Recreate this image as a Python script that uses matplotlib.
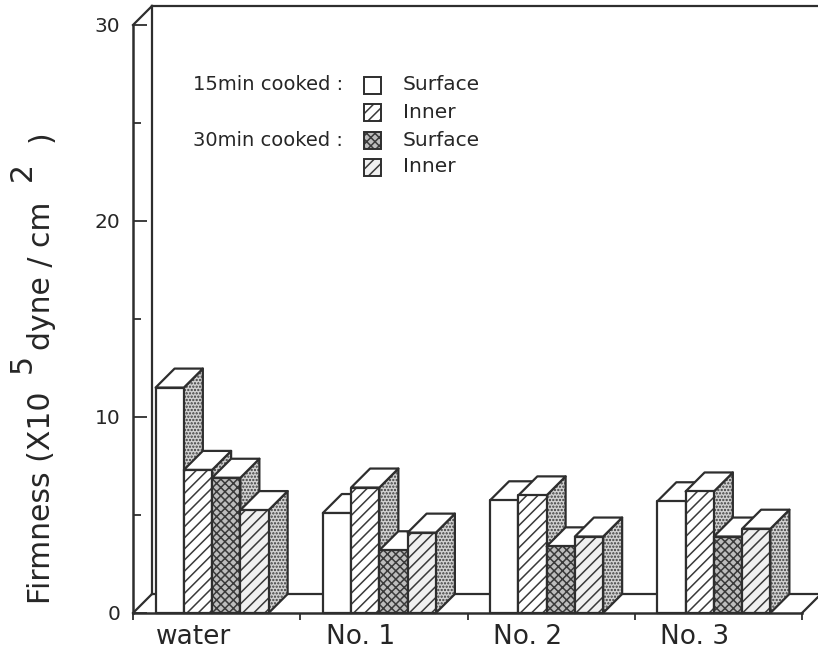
import matplotlib.pyplot as plt
from matplotlib.patches import Polygon, Rectangle

plt.rcParams['font.family'] = 'DejaVu Sans'
plt.rcParams['hatch.linewidth'] = 1.1

# data (x10^5 dyne/cm2)
groups = ['water', 'No. 1', 'No. 2', 'No. 3']
surface_15 = [11.5, 5.1, 5.75, 5.7]
inner_15 = [7.3, 6.4, 6.0, 6.2]
surface_30 = [6.9, 3.2, 3.4, 3.9]
inner_30 = [5.25, 4.1, 3.9, 4.3]
series_names = ['Surface', 'Inner', 'Surface', 'Inner']
cook_labels = ['15min cooked :', '30min cooked :']

series = [surface_15, inner_15, surface_30, inner_30]

LINE = '#2e2e2e'
TEXT = '#262626'
# front face styles (facecolor, hatch)
styles = [('white', None), ('white', '///'), ('#bdbdbd', 'xxxx'), ('#f0f0f0', '///')]
side_style = ('#d2d2d2', '.....')

W, H = 818, 652
fig = plt.figure(figsize=(W / 100, H / 100), dpi=100)
ax = fig.add_axes([133 / W, 39 / H, 669 / W, 588 / H])
ax.set_xlim(0, 4)
ax.set_ylim(0, 30)

# depth of the pseudo-3d box, in data units
dx = 19 / 167.25
dy = 0.97
bar_w = 0.169
first_off = 0.135


def face(pts, fc, hatch, z):
    ax.add_patch(Polygon(pts, closed=True, facecolor=fc, edgecolor='#3a3a3a', hatch=hatch,
                         linewidth=0, zorder=z, clip_on=False))
    ax.add_patch(Polygon(pts, closed=True, fill=False, edgecolor=LINE, linewidth=1.6,
                         zorder=z, clip_on=False, joinstyle='round'))


# back wall and floor outline
kw = dict(color=LINE, lw=1.6, clip_on=False, zorder=1)
ax.plot([0, dx], [30, 30 + dy], **kw)
ax.plot([dx, dx], [dy, 30 + dy], **kw)
ax.plot([dx, 4 + dx], [30 + dy, 30 + dy], **kw)
ax.plot([0, dx], [0, dy], **kw)
ax.plot([dx, 4 + dx], [dy, dy], **kw)
ax.plot([4, 4 + dx], [0, dy], **kw)

# bars, drawn left to right so later fronts hide earlier sides
z = 3
for g in range(len(groups)):
    x0 = g + first_off
    for k, vals in enumerate(series):
        h = vals[g]
        xl = x0 + k * bar_w
        xr = xl + bar_w
        face([(xr, 0), (xr + dx, dy), (xr + dx, h + dy), (xr, h)], side_style[0], side_style[1], z)
        face([(xl, h), (xl + dx, h + dy), (xr + dx, h + dy), (xr, h)], 'white', None, z + 1)
        fc, hatch = styles[k]
        face([(xl, 0), (xr, 0), (xr, h), (xl, h)], fc, hatch, z + 2)
        z += 3

# axes styling
for s in ['top', 'right']:
    ax.spines[s].set_visible(False)
for s in ['left', 'bottom']:
    ax.spines[s].set_color(LINE)
    ax.spines[s].set_linewidth(1.8)

ax.set_yticks([0, 10, 20, 30])
ax.set_yticks([5, 15, 25], minor=True)
ax.tick_params(axis='y', which='major', direction='in', length=10, width=1.3, color=LINE,
               pad=9, labelsize=14.5, labelcolor=TEXT)
ax.tick_params(axis='y', which='minor', direction='in', length=6, width=1.3, color=LINE)

ax.set_xticks(range(5))
ax.set_xticklabels([''] * 5)
ax.set_xticks([g + 0.36 for g in range(len(groups))], minor=True)
ax.set_xticklabels(groups, minor=True)
ax.tick_params(axis='x', which='major', direction='out', length=5, width=1.3, color=LINE)
ax.tick_params(axis='x', which='minor', length=0, pad=8, labelsize=19, labelcolor=TEXT)
ax.patch.set_visible(False)


def fx(x):
    return x / W


def fy(y):
    return 1 - y / H


# legend
row_y = [85, 112, 140, 167]
fig.text(fx(343), fy(row_y[0]), cook_labels[0], ha='right', va='center', fontsize=14, color=TEXT)
fig.text(fx(343), fy(row_y[2]), cook_labels[1], ha='right', va='center', fontsize=14, color=TEXT)
for k, y in enumerate(row_y):
    fc, hatch = styles[k]
    fig.add_artist(Rectangle((fx(364), fy(y + 8.5)), 17 / W, 17 / H, transform=fig.transFigure,
                             facecolor=fc, edgecolor='#3a3a3a', hatch=hatch, linewidth=0))
    fig.add_artist(Rectangle((fx(364), fy(y + 8.5)), 17 / W, 17 / H, transform=fig.transFigure,
                             fill=False, edgecolor=LINE, linewidth=1.4))
    fig.text(fx(403), fy(y), series_names[k], ha='left', va='center', fontsize=14.5, color=TEXT)

# y label with full-size raised exponents, pieces placed along the rotated baseline
parts = [('Firmness (X10', 50, 604), ('5', 31, 373), ('dyne / cm', 50, 350),
         ('2', 31, 181), (')', 50, 142)]
for txt, xb, yb in parts:
    fig.text(fx(xb), fy(yb), txt, rotation=90, rotation_mode='anchor', ha='left',
             va='baseline', fontsize=21.5, color=TEXT)

fig.savefig('out.png', dpi=100)
